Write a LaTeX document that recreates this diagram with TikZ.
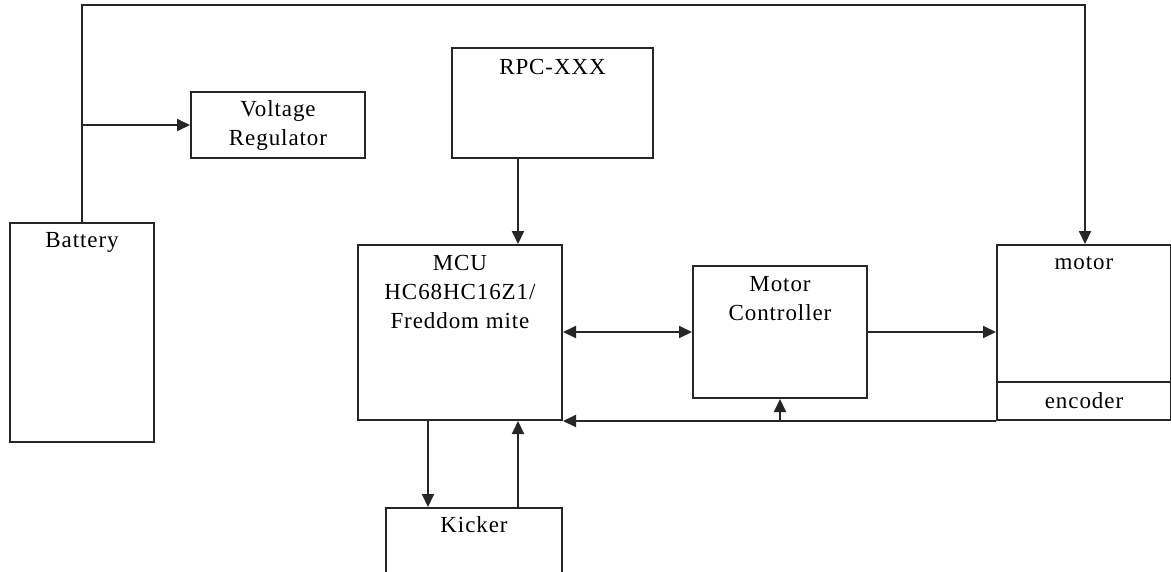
\documentclass[tikz,border=0pt]{standalone}
\usepackage{fontspec}
\setmainfont{Liberation Serif}[LetterSpace=4]
\usetikzlibrary{arrows.meta,calc}
\begin{document}
\begin{tikzpicture}[x=1pt,y=-1pt,
  box/.style={draw=black!85,line width=2pt,rectangle,inner sep=0pt,anchor=north west},
  lbl/.style={inner sep=0pt,align=center,font=\fontsize{23}{29}\selectfont},
  arr/.style={draw=black!85,line width=2pt,-{Triangle[length=13pt,width=12pt]}},
  darr/.style={draw=black!85,line width=2pt,{Triangle[length=13pt,width=12pt]}-{Triangle[length=13pt,width=12pt]}}]
\clip (0,0) rectangle (1171,571);
\fill[white] (0,0) rectangle (1171,571);
% boxes
\node[box,minimum width=144pt,minimum height=219pt] (bat) at (9,222) {};
\node[box,minimum width=174pt,minimum height=66pt] (vr) at (190,91) {};
\node[box,minimum width=201pt,minimum height=110pt] (rpc) at (451,47) {};
\node[box,minimum width=204pt,minimum height=175pt] (mcu) at (357,244) {};
\node[box,minimum width=174pt,minimum height=132pt] (mc) at (692,265) {};
\node[box,minimum width=174pt,minimum height=175pt] (motor) at (996,244) {};
\node[box,anchor=south west,minimum width=174pt,minimum height=38pt] (enc) at (motor.south west) {};
\node[box,minimum width=176pt,minimum height=100pt] (kick) at (385,507) {};
% labels
\node[lbl] (battxt) at ($(bat.north)+(0,20)$) {Battery};
\node[lbl] (vrtxt) at (vr.center) {Voltage\\Regulator};
\node[lbl] (rpctxt) at ($(rpc.north)+(0,20)$) {RPC-XXX};
\node[lbl] (mcutxt) at ($(mcu.north)+(0,48)$) {MCU\\HC68HC16Z1/\\Freddom mite};
\node[lbl] (mctxt) at ($(mc.north)+(0,34)$) {Motor\\Controller};
\node[lbl] (motortxt) at ($(motor.north)+(0,19)$) {motor};
\node[lbl] (enctxt) at (enc.center) {encoder};
\node[lbl] (kicktxt) at ($(kick.north)+(0,18)$) {Kicker};
% connectors
\coordinate (tr) at (1085,5);
\draw[arr] (bat.north) |- (tr) -- (tr |- motor.north);
\coordinate (vb) at (bat.north |- vr.west);
\draw[arr] (vb) -- (vr.west);
\coordinate (rx) at (518,0);
\draw[arr] (rpc.south -| rx) -- (mcu.north -| rx);
\draw[darr] (mcu.east |- mc.west) -- (mc.west);
\draw[arr] (mc.east) -- (motor.west |- mc.east);
\draw[arr] (motor.south west) -- (mcu.south east);
\draw[arr] (mc.south |- mcu.south) -- (mc.south);
\coordinate (kx) at (428,0);
\draw[arr] (mcu.south -| kx) -- (kick.north -| kx);
\draw[arr] (kick.north -| rx) -- (mcu.south -| rx);
\end{tikzpicture}
\end{document}
